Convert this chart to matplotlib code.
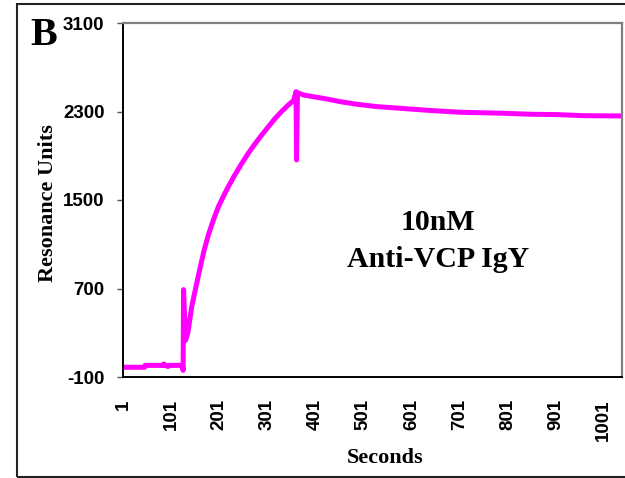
import matplotlib.pyplot as plt
from matplotlib.patches import Rectangle

# sensorgram: 10 nM anti-VCP IgY
seconds = [1, 46, 47, 84, 86, 88, 95, 97, 125,
           126, 127, 131, 136, 140, 144, 150, 155, 161, 170, 179, 189, 199,
           210, 220, 234, 248, 262, 276, 290, 303, 317, 331, 344, 356,
           361, 362, 364, 377, 397, 425, 453, 488, 530, 578, 634, 703, 786,
           850, 905, 960, 1038]
resonance = [-12, -12, 5, 5, 18, 5, -5, 5, 5,
             -40, 690, 230, 300, 420, 536, 660, 760, 880, 1050, 1190, 1320, 1435,
             1535, 1620, 1730, 1830, 1925, 2010, 2090, 2160, 2235, 2300, 2355, 2400,
             2480, 1862, 2470, 2449, 2434, 2413, 2389, 2365, 2344, 2329, 2311, 2293, 2285,
             2275, 2272, 2262, 2260]

x_ticks = list(range(1, 1002, 100))
y_ticks = [-100, 700, 1500, 2300, 3100]

serif = 'Liberation Serif'
sans = 'Liberation Sans'

fig = plt.figure(figsize=(6.25, 4.78), dpi=100)
ax = fig.add_axes([123 / 625, 1 - 377 / 478, 498.5 / 625, 354 / 478])

ax.plot(seconds, resonance, color='#ff00ff', lw=3.6,
        solid_capstyle='round', solid_joinstyle='round')

ax.set_xlim(1, 1038)
ax.set_ylim(-100, 3100)
ax.set_xticks(x_ticks)
ax.set_yticks(y_ticks)
ax.set_xticklabels([str(t) for t in x_ticks], rotation=90,
                   fontfamily=sans, fontweight='bold', fontsize=13.5)
ax.set_yticklabels([str(t) for t in y_ticks],
                   fontfamily=sans, fontweight='bold', fontsize=13.5)
ax.tick_params(axis='x', length=0, pad=16)
ax.tick_params(axis='y', length=4.3, width=1, color='#555555', pad=9)

for side in ['left', 'bottom']:
    ax.spines[side].set_color('black')
    ax.spines[side].set_linewidth(1.4)
for side in ['top', 'right']:
    ax.spines[side].set_color('#808080')
    ax.spines[side].set_linewidth(1.6)

ax.set_xlabel('Seconds', fontfamily=serif, fontweight='bold', fontsize=16)
ax.set_ylabel('Resonance Units', fontfamily=serif, fontweight='bold', fontsize=16)
ax.xaxis.set_label_coords(0.526, -0.20)
ax.yaxis.set_label_coords(-0.13, 0.49)

ax.text(657, 1301, '10nM', ha='center', va='center',
        fontfamily=serif, fontweight='bold', fontsize=21.5)
ax.text(657, 958, 'Anti-VCP IgY', ha='center', va='center',
        fontfamily=serif, fontweight='bold', fontsize=21.5)

fig.text(30 / 625, 1 - 45 / 478, 'B', ha='left', va='baseline',
         fontfamily=serif, fontweight='bold', fontsize=29)

# outer panel frame
fig.patches.append(Rectangle((17 / 625, 1 - 477 / 478), 1.0, 473 / 478,
                             transform=fig.transFigure, fill=False,
                             edgecolor='#222222', lw=1.5))

fig.savefig('out.png', dpi=100)
